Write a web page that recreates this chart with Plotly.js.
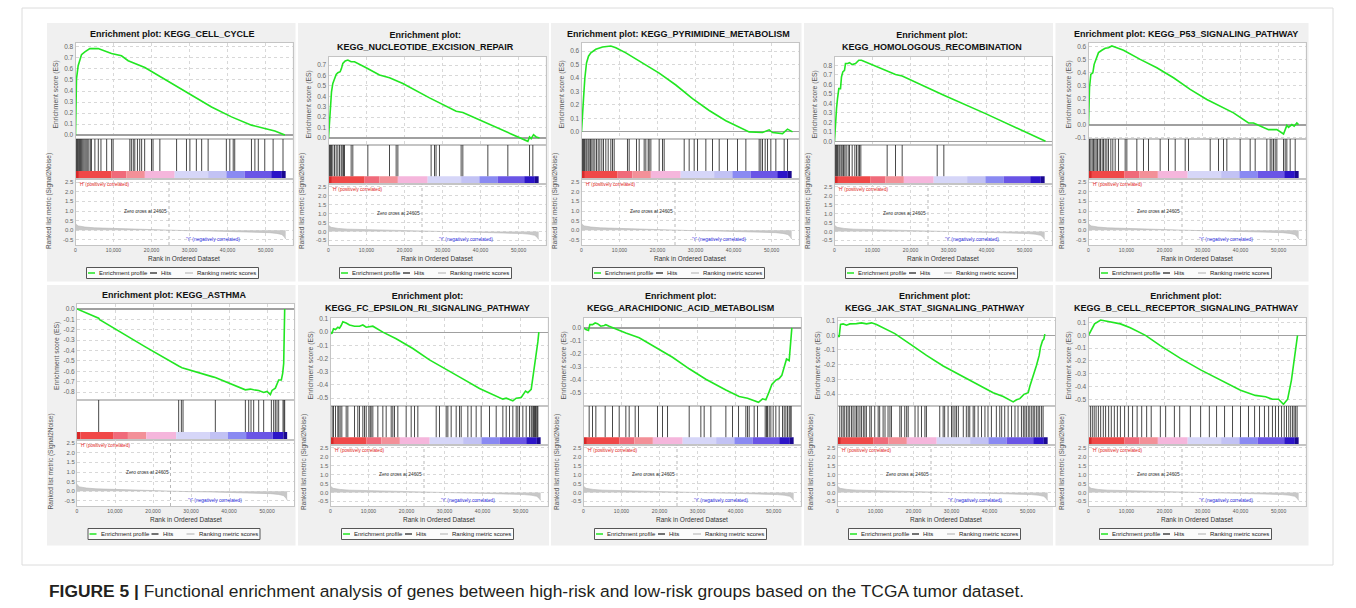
<!DOCTYPE html>
<html><head><meta charset="utf-8">
<script src="https://cdn.plot.ly/plotly-3.0.1.min.js"></script>
<style>html,body{margin:0;padding:0;background:#fff}#chart{width:1356px;height:608px}</style>
</head><body><div id="chart"></div>
<script>
// ---------------- DATA ----------------
const pathwayTitles = [
  'Enrichment plot: KEGG_CELL_CYCLE',
  'Enrichment plot:<br>KEGG_NUCLEOTIDE_EXCISION_REPAIR',
  'Enrichment plot: KEGG_PYRIMIDINE_METABOLISM',
  'Enrichment plot:<br>KEGG_HOMOLOGOUS_RECOMBINATION',
  'Enrichment plot: KEGG_P53_SIGNALING_PATHWAY',
  'Enrichment plot: KEGG_ASTHMA',
  'Enrichment plot:<br>KEGG_FC_EPSILON_RI_SIGNALING_PATHWAY',
  'Enrichment plot:<br>KEGG_ARACHIDONIC_ACID_METABOLISM',
  'Enrichment plot:<br>KEGG_JAK_STAT_SIGNALING_PATHWAY',
  'Enrichment plot:<br>KEGG_B_CELL_RECEPTOR_SIGNALING_PATHWAY'
];
const rankTickVals = [0, 10000, 20000, 30000, 40000, 50000];
const rankTickText = ['0', '10,000', '20,000', '30,000', '40,000', '50,000'];
const metricTickVals = [-0.5, 0.0, 0.5, 1.0, 1.5, 2.0, 2.5];
const zeroCross = 24605;

// shared ranked list metric (Signal2Noise)
const metricRank = [0, 200, 700, 1500, 2500, 5000, 9500, 14000, 18250, 22000, 24605, 30000, 35000, 40000, 44000, 48000, 51000, 53000, 54300, 55000, 55300];
const metricValue = [0.37, 0.30, 0.23, 0.19, 0.17, 0.13, 0.10, 0.07, 0.05, 0.02, 0.0, -0.02, -0.03, -0.05, -0.07, -0.09, -0.12, -0.16, -0.22, -0.35, -0.45];

// phenotype colour band
const bandEdges = [0, 900, 9500, 13400, 18250, 26100, 34900, 39700, 44500, 51500, 54300, 55300];
const bandColors = ['#d82828', '#f04848', '#f06a7a', '#f39098', '#f5b6dc', '#d6d6f8', '#c2c2f4', '#8a8af2', '#6a55e6', '#2c14c8', '#1a0890'];

// 1 CELL_CYCLE
const ccRank = [0, 260, 700, 1580, 2460, 3330, 3770, 5960, 7720, 9470, 12100, 13860, 18250, 22630, 27020, 31400, 35800, 41050, 46300, 49800, 52460, 55100];
const ccES = [0, 0.51, 0.63, 0.73, 0.755, 0.77, 0.785, 0.785, 0.765, 0.74, 0.72, 0.675, 0.614, 0.524, 0.434, 0.345, 0.255, 0.165, 0.09, 0.06, 0.036, 0.0];
const ccHits = [100, 300, 500, 700, 900, 1100, 1300, 1600, 1900, 2200, 2500, 2800, 3100, 3500, 3900, 4200, 5100, 6000, 6700, 8200, 9500, 9900, 14300, 14700, 15200, 15600, 16300, 16900, 17400, 18200, 20000, 20400, 22200, 26600, 29200, 30100, 31800, 33200, 34900, 39700, 40600, 41500, 41900, 46300, 47200, 48100, 49800, 52000, 54600];

// 2 NUCLEOTIDE_EXCISION_REPAIR
const nerRank = [0, 260, 530, 790, 1140, 1580, 2020, 2460, 3070, 3420, 3770, 4390, 5090, 5960, 6840, 9910, 13420, 16050, 19560, 26580, 33600, 35350, 41490, 42370, 46750, 52460, 52900, 53330, 53950, 54650, 55530];
const nerES = [0, 0.186, 0.347, 0.443, 0.523, 0.572, 0.61, 0.626, 0.636, 0.668, 0.716, 0.739, 0.748, 0.732, 0.732, 0.674, 0.604, 0.578, 0.523, 0.385, 0.257, 0.244, 0.145, 0.138, 0.064, -0.032, 0.01, -0.006, 0.032, 0.01, 0.0];
const nerHits = [260, 530, 790, 1140, 1580, 2020, 2460, 2900, 3330, 3600, 3950, 4210, 5960, 6400, 10350, 16050, 17800, 18250, 27000, 27900, 28300, 29200, 34900, 35350, 41930, 47190, 52900, 53770];

// 3 PYRIMIDINE_METABOLISM
const pyrRank = [0, 260, 530, 880, 1320, 1840, 2460, 3770, 5530, 7720, 9040, 11670, 16050, 20440, 24820, 29210, 33600, 37980, 44120, 47630, 49390, 50260, 52890, 54210, 55530];
const pyrES = [0, 0.096, 0.247, 0.398, 0.512, 0.562, 0.587, 0.613, 0.63, 0.638, 0.625, 0.587, 0.512, 0.436, 0.348, 0.247, 0.159, 0.083, 0.0, -0.005, 0.015, -0.005, -0.013, 0.02, 0.0];
const pyrHits = [260, 530, 790, 1140, 1400, 1750, 2020, 2370, 2720, 3070, 3510, 3950, 4390, 4830, 5350, 5790, 6400, 7020, 7720, 8160, 8600, 12100, 12540, 14470, 15180, 16490, 16930, 17540, 17810, 18250, 20440, 21320, 21750, 27020, 28330, 29650, 30530, 32720, 34470, 36230, 38420, 41050, 43250, 46750, 47190, 47630, 48330, 48950, 49820, 51140, 53330, 54210];

// 4 HOMOLOGOUS_RECOMBINATION
const hrRank = [0, 260, 530, 790, 1140, 1580, 1840, 2190, 2630, 2890, 3510, 3950, 4650, 5530, 6400, 7100, 13860, 16050, 17810, 26580, 28770, 39740, 48510, 55530];
const hrES = [0, 0.2, 0.344, 0.449, 0.554, 0.554, 0.677, 0.73, 0.747, 0.818, 0.818, 0.828, 0.807, 0.818, 0.853, 0.853, 0.737, 0.702, 0.688, 0.519, 0.484, 0.291, 0.133, 0.0];
const hrHits = [260, 530, 790, 1140, 1400, 1750, 2020, 2370, 2720, 3070, 3600, 3950, 4650, 5350, 5790, 6230, 6580, 6930, 13860, 16050, 17810, 27020, 28770];

// 5 P53_SIGNALING_PATHWAY
const p53Rank = [0, 263, 614, 1140, 1491, 2018, 2632, 3509, 4386, 5263, 6140, 7456, 8333, 9211, 13600, 17980, 22370, 26750, 31140, 34650, 38160, 42110, 43420, 44740, 47370, 49560, 51320, 52190, 52630, 53510, 54120, 54820, 55260];
const p53ES = [0, 0.286, 0.389, 0.401, 0.466, 0.504, 0.556, 0.574, 0.589, 0.594, 0.607, 0.594, 0.582, 0.574, 0.504, 0.44, 0.363, 0.273, 0.196, 0.144, 0.093, 0.015, 0.015, -0.003, -0.036, -0.036, -0.069, -0.003, -0.018, 0.003, -0.01, 0.015, 0.003];
const p53Hits = [260, 610, 970, 1320, 1670, 2020, 2370, 2810, 3160, 3600, 3950, 4390, 4830, 5260, 5880, 6400, 7020, 7900, 9650, 10090, 12720, 14470, 15790, 18860, 21050, 22810, 25440, 26320, 32020, 34210, 35530, 36400, 39910, 42540, 43860, 46930, 47810, 48250, 48680, 49120, 49560, 51320, 51750, 52190, 53070, 54390];

// 6 ASTHMA
const asRank = [0, 5700, 5960, 9210, 17980, 26750, 27630, 35530, 36400, 44300, 45610, 46490, 47810, 49120, 50000, 50880, 51320, 52190, 52630, 53070, 53770, 54120, 54390, 54560, 54650];
const asES = [0, -0.089, -0.102, -0.175, -0.365, -0.549, -0.565, -0.651, -0.66, -0.778, -0.771, -0.778, -0.784, -0.803, -0.794, -0.825, -0.784, -0.762, -0.73, -0.683, -0.683, -0.619, -0.524, -0.206, 0.0];
const asHits = [5700, 26750, 27460, 27900, 36400, 44300, 45180, 45790, 46490, 47810, 49120, 51140, 51750, 52190, 52630, 53070, 54210, 54470, 54650];

// 7 FC_EPSILON_RI_SIGNALING_PATHWAY
const fcRank = [0, 350, 790, 1316, 1930, 2370, 2810, 3250, 4120, 5000, 6320, 7630, 8510, 9390, 11140, 13770, 17280, 21670, 26050, 30440, 34820, 39210, 43600, 45350, 46230, 47980, 48860, 50180, 51320, 51930, 52810, 53250, 53680, 54120, 54560, 54820];
const fcES = [0, -0.012, 0.025, 0.02, 0.037, 0.03, 0.05, 0.079, 0.069, 0.054, 0.045, 0.045, 0.054, 0.037, 0.045, 0.0, -0.05, -0.124, -0.21, -0.285, -0.354, -0.426, -0.483, -0.507, -0.5, -0.52, -0.5, -0.495, -0.446, -0.458, -0.433, -0.347, -0.248, -0.173, -0.074, 0.0];
const fcHits = [440, 790, 1320, 1930, 2190, 2540, 2980, 4120, 4560, 6320, 7190, 7630, 8510, 8950, 9390, 10090, 10440, 10700, 11140, 12460, 13770, 14650, 15970, 16400, 16840, 17720, 19910, 21230, 22110, 22980, 27810, 28680, 30440, 30880, 31750, 33070, 33950, 34390, 36140, 37020, 38330, 39650, 41840, 43600, 45350, 46230, 47110, 47980, 48860, 49300, 49740, 50610, 51490, 52370, 52810, 53070, 53420, 53680, 53950, 54120, 54390, 54560];

// 8 ARACHIDONIC_ACID_METABOLISM
const aaRank = [0, 614, 1316, 1667, 2368, 3070, 3684, 4561, 5439, 5877, 6754, 8509, 11140, 14650, 19040, 23420, 27810, 32190, 37460, 40960, 43160, 44470, 46050, 47110, 47980, 48860, 49560, 50610, 51490, 52190, 52810, 53420, 54120, 54560, 54820];
const aaES = [0, -0.013, -0.02, 0.025, 0.025, 0.038, 0.033, 0.013, 0.018, 0.025, 0.013, -0.008, -0.038, -0.075, -0.15, -0.225, -0.313, -0.393, -0.475, -0.525, -0.538, -0.55, -0.57, -0.543, -0.55, -0.488, -0.433, -0.4, -0.388, -0.363, -0.308, -0.238, -0.25, -0.063, 0.0];
const aaHits = [1490, 2370, 3250, 5700, 7630, 9390, 11140, 12020, 13600, 14470, 19470, 20790, 22110, 27810, 30880, 31750, 33510, 37460, 39210, 40790, 42720, 43160, 43600, 44910, 45790, 47810, 48160, 48420, 48860, 49300, 49910, 50610, 51490, 52370, 52810, 53250, 53680, 54120, 54390, 54650];

// 9 JAK_STAT_SIGNALING_PATHWAY
const jakRank = [0, 440, 790, 1490, 2370, 3250, 5000, 6320, 7630, 8950, 10260, 12890, 15090, 19040, 23420, 27810, 32190, 36580, 40960, 43600, 46230, 47110, 47980, 49040, 50180, 50610, 51490, 52370, 53070, 53420, 53950, 54300, 54560];
const jakES = [0, -0.011, 0.073, 0.077, 0.068, 0.077, 0.079, 0.084, 0.077, 0.084, 0.073, 0.04, 0.011, -0.059, -0.137, -0.209, -0.269, -0.328, -0.39, -0.416, -0.452, -0.438, -0.43, -0.401, -0.39, -0.346, -0.28, -0.203, -0.137, -0.081, -0.037, -0.026, 0.007];
const jakHits = [600, 1100, 1500, 1900, 2400, 2800, 3200, 3700, 4100, 4600, 5000, 5400, 5900, 6300, 6800, 7200, 7600, 8500, 8900, 9800, 10700, 11100, 12000, 12500, 13300, 13800, 14200, 16400, 16800, 17700, 18200, 18600, 20400, 21200, 22100, 23000, 23400, 26900, 27800, 28200, 29100, 30000, 30400, 30900, 31300, 31800, 33100, 33900, 34400, 34800, 35700, 36100, 37000, 37900, 38800, 39600, 40500, 41800, 42700, 43200, 44000, 44900, 45800, 46700, 47500, 48400, 48900, 49300, 49700, 50200, 50600, 51100, 51500, 51900, 52400, 52800, 53200, 53700, 54100];

// 10 B_CELL_RECEPTOR_SIGNALING_PATHWAY
const bcRank = [0, 800, 1600, 3200, 4700, 6300, 8400, 11000, 15000, 18900, 24200, 29500, 34700, 40000, 43900, 46600, 48400, 50000, 51300, 52400, 53400, 54200, 54700, 55000];
const bcES = [0, 0.05, 0.09, 0.12, 0.11, 0.10, 0.09, 0.06, 0.0, -0.08, -0.18, -0.27, -0.35, -0.43, -0.47, -0.48, -0.50, -0.50, -0.54, -0.50, -0.35, -0.18, -0.05, 0.0];
const bcHits = [500, 1000, 1500, 2000, 2600, 3200, 3900, 4500, 5300, 6000, 6800, 7600, 8400, 9500, 10500, 11600, 12800, 14000, 15300, 16500, 18900, 20300, 22600, 24000, 26800, 29500, 31800, 33700, 35800, 37900, 40000, 42100, 43700, 45000, 46300, 47400, 48400, 49200, 50000, 50800, 51500, 52100, 52700, 53200, 53700, 54100, 54500, 54900];

// ---------------- LAYOUT / DRAWING ----------------
const W = 1356, H = 608, XMAX = 57100, PW = 217;
const px = x => x / W, py = y => 1 - y / H;
const FONT = 'Liberation Sans, Arial, Helvetica, sans-serif';

const panels = [
  {rank: ccRank, es: ccES, hits: ccHits, two: false, left: 75.5, yr: [-0.036, 0.836]},
  {rank: nerRank, es: nerES, hits: nerHits, two: true, left: 328.5, yr: [-0.067, 0.777]},
  {rank: pyrRank, es: pyrES, hits: pyrHits, two: false, left: 581.5, yr: [-0.053, 0.66]},
  {rank: hrRank, es: hrES, hits: hrHits, two: true, left: 834.5, yr: [-0.039, 0.887]},
  {rank: p53Rank, es: p53ES, hits: p53Hits, two: false, left: 1088.5, yr: [-0.108, 0.63]},
  {rank: asRank, es: asES, hits: asHits, two: false, left: 77, yr: [-0.876, 0.048]},
  {rank: fcRank, es: fcES, hits: fcHits, two: true, left: 330.5, yr: [-0.559, 0.107]},
  {rank: aaRank, es: aaES, hits: aaHits, two: true, left: 583.5, yr: [-0.598, 0.076]},
  {rank: jakRank, es: jakES, hits: jakHits, two: true, left: 837.5, yr: [-0.48, 0.117]},
  {rank: bcRank, es: bcES, hits: bcHits, two: true, left: 1088.5, yr: [-0.553, 0.136]}
];
const panelCols = [[47, 295.5], [298, 549], [551, 801.5], [804, 1053], [1055.5, 1308.5]];
const panelRows = [[23, 281.5], [285, 545.5]];

const data = [];
const shapes = [];
const annotations = [];
const layout = {
  width: W, height: H, margin: {l: 0, r: 0, t: 0, b: 0},
  paper_bgcolor: '#ffffff', plot_bgcolor: 'rgba(0,0,0,0)',
  showlegend: false, font: {family: FONT, color: '#333'},
  shapes: shapes, annotations: annotations
};

// outer frame and panel backgrounds
shapes.push({type: 'rect', xref: 'paper', yref: 'paper', x0: px(22), x1: px(1333), y0: py(8), y1: py(565),
  line: {color: '#dcdcdc', width: 1}, fillcolor: 'rgba(0,0,0,0)', layer: 'below'});
panelRows.forEach(r => panelCols.forEach(c => {
  shapes.push({type: 'rect', xref: 'paper', yref: 'paper', x0: px(c[0]), x1: px(c[1]), y0: py(r[1]), y1: py(r[0]),
    line: {width: 0}, fillcolor: '#f0f0f0', layer: 'below'});
}));

const axName = n => n === 1 ? '' : String(n);
function note(o) {
  return Object.assign({showarrow: false, xanchor: 'center', yanchor: 'middle', xref: 'paper', yref: 'paper'}, o);
}

panels.forEach((p, i) => {
  const dy = i < 5 ? 0 : 261;
  const g = p.two ? {esT: 57, esB: 145, hB: 184, rT: 184, rB: 245}
                  : {esT: 43, esB: 139, hB: 179, rT: 179, rB: 245};
  const L = p.left, R = p.left + PW;
  const xd = [px(L), px(R)];
  const nE = 3 * i + 1, nH = 3 * i + 2, nR = 3 * i + 3;
  const sE = axName(nE), sH = axName(nH), sR = axName(nR);

  // white plotting areas
  [[g.esT, g.esB], [g.esB, g.hB], [g.rT, g.rB]].forEach(b => {
    shapes.push({type: 'rect', xref: 'paper', yref: 'paper', x0: px(L), x1: px(R), y0: py(b[1] + dy), y1: py(b[0] + dy),
      line: {width: 0}, fillcolor: '#ffffff', layer: 'below'});
  });

  // ES ticks
  const tv = [], tt = [];
  for (let k = Math.ceil(p.yr[0] * 10 - 1e-9); k <= Math.floor(p.yr[1] * 10 + 1e-9); k++) {
    tv.push(k / 10); tt.push((k / 10).toFixed(1));
  }
  const baseX = {range: [0, XMAX], showline: true, mirror: true, linecolor: '#c4c4c4', linewidth: 1,
    zeroline: false, ticks: '', fixedrange: true};
  layout['xaxis' + sE] = Object.assign({}, baseX, {domain: xd, anchor: 'y' + sE, tickvals: rankTickVals,
    showticklabels: false, showgrid: true, gridcolor: '#d8d8d8', griddash: 'dot'});
  layout['yaxis' + sE] = {domain: [py(g.esB + dy), py(g.esT + dy)], anchor: 'x' + sE, range: p.yr,
    tickvals: tv, ticktext: tt, tickfont: {size: 6.5, color: '#666', family: FONT}, ticks: '',
    showgrid: true, gridcolor: '#d8d8d8', griddash: 'dot', zeroline: true, zerolinecolor: '#a0a0a0', zerolinewidth: 1.2,
    showline: true, mirror: true, linecolor: '#c4c4c4', fixedrange: true};
  layout['xaxis' + sH] = Object.assign({}, baseX, {domain: xd, anchor: 'y' + sH, showticklabels: false, showgrid: false});
  layout['yaxis' + sH] = {domain: [py(g.hB + dy), py(g.esB + dy)], anchor: 'x' + sH, range: [0, 1],
    showticklabels: false, showgrid: false, zeroline: false, ticks: '', showline: true, mirror: true,
    linecolor: '#c4c4c4', fixedrange: true};
  layout['xaxis' + sR] = Object.assign({}, baseX, {domain: xd, anchor: 'y' + sR, tickvals: rankTickVals,
    ticktext: rankTickText, tickfont: {size: 5, color: '#555', family: FONT},
    showgrid: true, gridcolor: '#d8d8d8', griddash: 'dot'});
  layout['yaxis' + sR] = {domain: [py(g.rB + dy), py(g.rT + dy)], anchor: 'x' + sR, range: [-0.76, 2.66],
    tickvals: metricTickVals, ticktext: metricTickVals.map(v => v.toFixed(1)),
    tickfont: {size: 6, color: '#666', family: FONT}, ticks: '', showgrid: true, gridcolor: '#d8d8d8', griddash: 'dot',
    zeroline: false, showline: true, mirror: true, linecolor: '#c4c4c4', fixedrange: true};

  // traces
  const hx = [], hy = [];
  p.hits.forEach(h => { hx.push(h, h, null); hy.push(0.2, 1, null); });
  data.push({type: 'scatter', mode: 'lines', x: hx, y: hy, xaxis: 'x' + sH, yaxis: 'y' + sH,
    line: {color: '#1a1a1a', width: 0.8}, hoverinfo: 'skip'});
  const mids = [], widths = [], ones = [];
  for (let k = 0; k < bandColors.length; k++) {
    mids.push((bandEdges[k] + bandEdges[k + 1]) / 2);
    widths.push(bandEdges[k + 1] - bandEdges[k]);
    ones.push(0.2);
  }
  data.push({type: 'bar', x: mids, y: ones, width: widths, base: 0, xaxis: 'x' + sH, yaxis: 'y' + sH,
    marker: {color: bandColors, line: {width: 0}}, hoverinfo: 'skip'});
  data.push({type: 'scatter', mode: 'lines', x: metricRank, y: metricValue, xaxis: 'x' + sR, yaxis: 'y' + sR,
    fill: 'tozeroy', fillcolor: '#c8c8c8', line: {color: '#b6b6b6', width: 0.6}, hoverinfo: 'skip'});
  data.push({type: 'scatter', mode: 'lines', x: p.rank, y: p.es, xaxis: 'x' + sE, yaxis: 'y' + sE,
    line: {color: '#22e622', width: 1.6}, hoverinfo: 'skip'});

  // zero-cross dashed line
  shapes.push({type: 'line', xref: 'x' + sR, yref: 'y' + sR + ' domain', x0: zeroCross, x1: zeroCross, y0: 0, y1: 1,
    line: {color: '#b8b8b8', width: 1, dash: 'dot'}});

  // titles / labels
  annotations.push(note({x: px(L + 97), y: py((p.two ? 41 : 34) + dy),
    text: '<b>' + pathwayTitles[i] + '</b>', font: {size: 9, color: '#111', family: FONT}}));
  annotations.push(note({x: px(L - 20), y: py((g.esT + g.esB) / 2 + 4 + dy),
    text: 'Enrichment score (ES)', textangle: -90, font: {size: 6.8, color: '#555', family: FONT}}));
  annotations.push(note({x: px(L - 26.5), y: py(201 + dy),
    text: 'Ranked list metric (Signal2Noise)', textangle: -90, font: {size: 6.5, color: '#555', family: FONT}}));
  annotations.push(note({x: px(L + 108.5), y: py(258 + dy),
    text: 'Rank in Ordered Dataset', font: {size: 6.5, color: '#333', family: FONT}}));
  annotations.push(note({x: px(L + 1), y: py(g.rT + 1 + dy), xanchor: 'left', yanchor: 'top',
    text: "'H' (positively correlated)", font: {size: 4.6, color: '#e02020', family: FONT}}));
  annotations.push(note({xref: 'x' + sR, yref: 'y' + sR, x: zeroCross, y: 1.0, xanchor: 'right',
    text: 'Zero cross at 24605', font: {size: 4.8, color: '#333', family: FONT}}));
  annotations.push(note({xref: 'x' + sR, yref: 'y' + sR, x: 36300, y: -0.45,
    text: "'Y' (negatively correlated)", font: {size: 4.8, color: '#2a2ae0', family: FONT}}));

  // legend box
  const ly = 273 + dy;
  shapes.push({type: 'rect', xref: 'paper', yref: 'paper', x0: px(L + 11), x1: px(L + 183), y0: py(ly + 5.5), y1: py(ly - 5.5),
    line: {color: '#555', width: 1}, fillcolor: '#fbfbfb'});
  [[12.5, 19.5, '#22e622', 'Enrichment profile', 21.5],
   [74.5, 81.5, '#444', 'Hits', 83.5],
   [109.5, 117.5, '#c8c8c8', 'Ranking metric scores', 119.5]].forEach(it => {
    shapes.push({type: 'line', xref: 'paper', yref: 'paper', x0: px(L + it[0]), x1: px(L + it[1]), y0: py(ly), y1: py(ly),
      line: {color: it[2], width: 1.5}});
    annotations.push(note({x: px(L + it[4]), y: py(ly), xanchor: 'left',
      text: it[3], font: {size: 6, color: '#222', family: FONT}}));
  });
});

// caption
annotations.push(note({x: px(47), y: py(591), xanchor: 'left',
  text: '<b>FIGURE 5 |</b> Functional enrichment analysis of genes between high-risk and low-risk groups based on the TCGA tumor dataset.',
  font: {size: 17.4, color: '#231f20', family: FONT}}));

Plotly.newPlot('chart', data, layout, {staticPlot: true, displayModeBar: false});
</script>
</body></html>
